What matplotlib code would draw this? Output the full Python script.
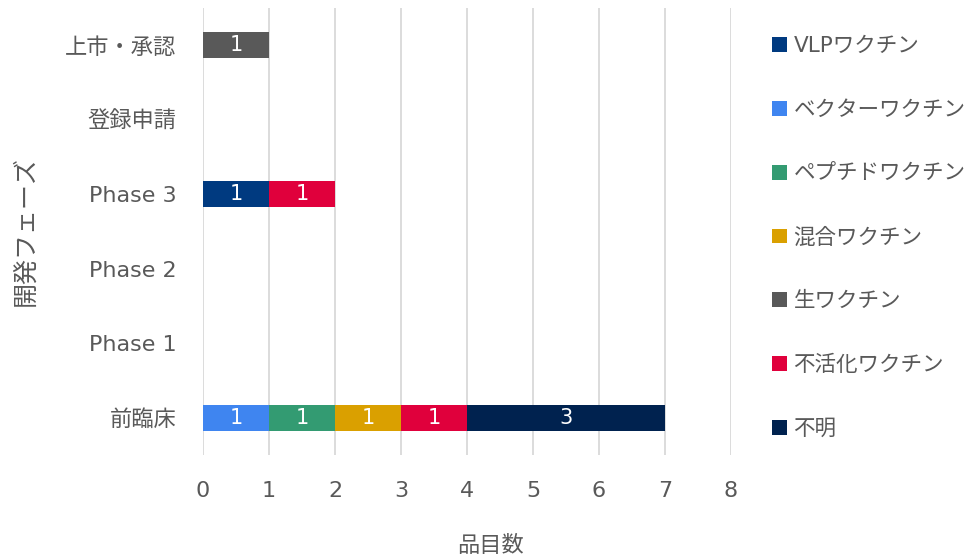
import matplotlib
matplotlib.use("Agg")
import matplotlib.pyplot as plt
from matplotlib.patches import Patch
import numpy as np

plt.rcParams['font.family'] = ['DejaVu Sans', 'Noto Sans CJK JP']

# Development phases, bottom to top
phases = ['前臨床', 'Phase 1', 'Phase 2', 'Phase 3', '登録申請', '上市・承認']

series_names = ['VLPワクチン', 'ベクターワクチン', 'ペプチドワクチン', '混合ワクチン',
                '生ワクチン', '不活化ワクチン', '不明']
vlp = [0, 0, 0, 1, 0, 0]
vector = [1, 0, 0, 0, 0, 0]
peptide = [1, 0, 0, 0, 0, 0]
mixed = [1, 0, 0, 0, 0, 0]
live = [0, 0, 0, 0, 0, 1]
inactivated = [1, 0, 0, 1, 0, 0]
unknown = [3, 0, 0, 0, 0, 0]
series_values = [vlp, vector, peptide, mixed, live, inactivated, unknown]
colors = ['#003A80', '#3F85F0', '#339B72', '#DAA000', '#595959', '#E0003C', '#00224F']

x_ticks = [0, 1, 2, 3, 4, 5, 6, 7, 8]

text_color = '#595959'

fig = plt.figure(figsize=(9.66, 5.59), dpi=100)
ax = fig.add_axes([203 / 966, 1 - 455 / 559, (731 - 203) / 966, (455 - 8) / 559])

y = np.arange(len(phases))
left = np.zeros(len(phases))
for name, vals, c in zip(series_names, series_values, colors):
    vals = np.array(vals, dtype=float)
    bars = ax.barh(y, vals, left=left, height=0.35, color=c, label=name, zorder=3)
    labels = [f'{int(v)}' if v > 0 else '' for v in vals]
    ax.bar_label(bars, labels=labels, label_type='center', color='white', fontsize=15)
    left += vals

ax.set_xlim(0, 8)
ax.set_ylim(-0.5, len(phases) - 0.5)
ax.set_xticks(x_ticks)
ax.set_yticks(y)
ax.set_yticklabels(phases)
ax.grid(axis='x', color='#D9D9D9', linewidth=1.3, zorder=0)
ax.grid(axis='y', visible=False)
for s in ax.spines.values():
    s.set_visible(False)
ax.tick_params(axis='both', length=0, colors=text_color, labelsize=16)
ax.tick_params(axis='x', pad=19)
ax.tick_params(axis='y', pad=19)

fig.text(490 / 966, 1 - 546 / 559, '品目数', ha='center', va='center',
         fontsize=16, color=text_color)
fig.text(25 / 966, 1 - 231 / 559, '開発フェーズ', ha='center', va='center',
         rotation=90, fontsize=18, color=text_color)

handles = [Patch(facecolor=c, label=n) for n, c in zip(series_names, colors)]
fig.legend(handles=handles, loc='upper left', bbox_to_anchor=(753 / 966, 1 - 17 / 559),
           frameon=False, fontsize=15.5, labelcolor=text_color,
           handlelength=0.68, handleheight=0.68, handletextpad=0.3,
           labelspacing=2.03)

fig.savefig('out.png', dpi=100)
